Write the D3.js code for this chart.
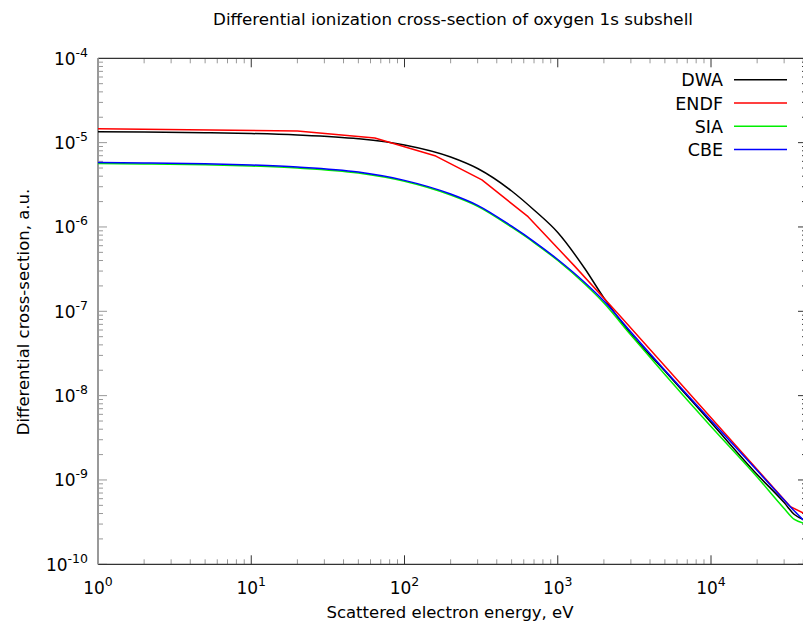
<!DOCTYPE html>
<html>
<head>
<meta charset="utf-8">
<script src="https://cdn.jsdelivr.net/npm/d3@7"></script>
<style>
  html, body { margin: 0; padding: 0; background: #fff; }
  svg { display: block; }
  text { font-family: "DejaVu Sans", sans-serif; fill: #000; }
</style>
</head>
<body>
<svg id="chart" width="803" height="627"></svg>
<script>
// ---- data ----
const titleText = "Differential ionization cross-section of oxygen 1s subshell";
const xLabel = "Scattered electron energy, eV";
const yLabel = "Differential cross-section, a.u.";

const xTickExponents = [0, 1, 2, 3, 4];
const yTickExponents = [-10, -9, -8, -7, -6, -5, -4];

const energyGrid = [1, 2, 5, 10, 20, 50, 100, 200, 300, 500, 700, 1000, 1500, 2000, 3000, 5000, 7000, 10000, 20000, 30000, 35000, 40000];

const dwaValues = [1.348e-5, 1.337e-5, 1.312e-5, 1.283e-5, 1.232e-5, 1.110e-5, 9.37e-6, 6.75e-6, 4.93e-6, 2.67e-6, 1.589e-6, 8.60e-7, 3.215e-7, 1.44e-7, 5.38e-8, 1.958e-8, 9.90e-9, 4.80e-9, 1.160e-9, 5.40e-10, 3.89e-10, 3.40e-10];

const endfEnergies = [1, 20, 64, 160, 320, 640, 1280, 2560, 6300, 33000, 40000];
const endfValues = [1.462e-5, 1.374e-5, 1.135e-5, 6.93e-6, 3.61e-6, 1.324e-6, 3.48e-7, 8.75e-8, 1.40e-8, 4.82e-10, 4.06e-10];

const siaValues = [5.66e-6, 5.58e-6, 5.46e-6, 5.28e-6, 5.00e-6, 4.36e-6, 3.48e-6, 2.39e-6, 1.758e-6, 9.93e-7, 6.54e-7, 4.00e-7, 2.107e-7, 1.254e-7, 5.23e-8, 1.78e-8, 8.87e-9, 4.30e-9, 1.084e-9, 4.59e-10, 3.40e-10, 3.09e-10];

const cbeValues = [5.81e-6, 5.73e-6, 5.61e-6, 5.43e-6, 5.14e-6, 4.48e-6, 3.57e-6, 2.46e-6, 1.806e-6, 1.021e-6, 6.72e-7, 4.11e-7, 2.195e-7, 1.324e-7, 5.68e-8, 2.00e-8, 1.023e-8, 5.07e-9, 1.294e-9, 5.78e-10, 4.28e-10, 3.35e-10];

const seriesNames = ["DWA", "ENDF", "SIA", "CBE"];
const seriesColors = ["#000000", "#ff0000", "#00ee00", "#0000ff"];

// ---- layout ----
const svg = d3.select("#chart");
const pLeft = 98, pRight = 807, pTop = 58.3, pBottom = 564.3;

const x = d3.scaleLog().domain([1, 42300]).range([pLeft, pRight]);
const y = d3.scaleLog().domain([1e-10, 1e-4]).range([pBottom, pTop]);

const series = [
  { name: seriesNames[0], xs: energyGrid, ys: dwaValues, color: seriesColors[0], smooth: true },
  { name: seriesNames[1], xs: endfEnergies, ys: endfValues, color: seriesColors[1], smooth: false },
  { name: seriesNames[2], xs: energyGrid, ys: siaValues, color: seriesColors[2], smooth: true },
  { name: seriesNames[3], xs: energyGrid, ys: cbeValues, color: seriesColors[3], smooth: true }
];

svg.append("defs").append("clipPath").attr("id", "plotclip")
  .append("rect").attr("x", pLeft).attr("y", pTop).attr("width", pRight - pLeft).attr("height", pBottom - pTop);

// ---- ticks ----
const ticksG = svg.append("g");
for (let e = 0; e <= 4; e++) {
  for (let m = 1; m <= 9; m++) {
    const v = m * Math.pow(10, e);
    if (v > 42300) continue;
    const px = x(v);
    const major = m === 1;
    const len = major ? 9 : 5;
    const col = major ? "#333" : "#999";
    ticksG.append("line").attr("x1", px).attr("x2", px).attr("y1", pBottom).attr("y2", pBottom - len)
      .attr("stroke", col).attr("stroke-width", 1);
    ticksG.append("line").attr("x1", px).attr("x2", px).attr("y1", pTop).attr("y2", pTop + len)
      .attr("stroke", col).attr("stroke-width", 1);
  }
}
for (let e = -10; e < -4; e++) {
  for (let m = 1; m <= 9; m++) {
    const v = m * Math.pow(10, e);
    const py = y(v);
    const major = m === 1;
    const len = major ? 9 : 5;
    ticksG.append("line").attr("x1", pLeft).attr("x2", pLeft + len).attr("y1", py).attr("y2", py)
      .attr("stroke", "#999").attr("stroke-width", 1);
    ticksG.append("line").attr("x1", pRight).attr("x2", pRight - len).attr("y1", py).attr("y2", py)
      .attr("stroke", "#333").attr("stroke-width", 1);
  }
}

// ---- border ----
svg.append("line").attr("x1", pLeft).attr("x2", pRight).attr("y1", pTop).attr("y2", pTop)
  .attr("stroke", "#333").attr("stroke-width", 1.3);
svg.append("line").attr("x1", pLeft).attr("x2", pRight).attr("y1", pBottom).attr("y2", pBottom)
  .attr("stroke", "#333").attr("stroke-width", 1.3);
svg.append("line").attr("x1", pLeft).attr("x2", pLeft).attr("y1", pTop).attr("y2", pBottom)
  .attr("stroke", "#999").attr("stroke-width", 2);

// ---- curves ----
const curvesG = svg.append("g").attr("clip-path", "url(#plotclip)");
series.forEach(s => {
  const pts = s.xs.map((v, i) => [v, s.ys[i]]);
  const line = d3.line().x(d => x(d[0])).y(d => y(d[1]))
    .curve(s.smooth ? d3.curveMonotoneX : d3.curveLinear);
  curvesG.append("path").datum(pts).attr("d", line)
    .attr("fill", "none").attr("stroke", s.color).attr("stroke-width", 1.5)
    .attr("stroke-linejoin", "round");
});

// ---- tick labels ----
const lab = svg.append("g");
yTickExponents.forEach(e => {
  const t = lab.append("text").attr("x", 88).attr("y", y(Math.pow(10, e)) + 6.5)
    .attr("text-anchor", "end").style("font-size", "17px");
  t.append("tspan").text("10");
  t.append("tspan").attr("dy", -8).style("font-size", "12.5px").text(String(e));
});
xTickExponents.forEach(e => {
  const t = lab.append("text").attr("x", x(Math.pow(10, e))).attr("y", 593.5)
    .attr("text-anchor", "middle").style("font-size", "17px");
  t.append("tspan").text("10");
  t.append("tspan").attr("dy", -8).style("font-size", "12.5px").text(String(e));
});

// ---- titles ----
svg.append("text").attr("x", 453).attr("y", 25).attr("text-anchor", "middle")
  .style("font-size", "16.7px").text(titleText);
svg.append("text").attr("x", 450).attr("y", 618).attr("text-anchor", "middle")
  .style("font-size", "16.5px").text(xLabel);
svg.append("text").attr("transform", "translate(29,312) rotate(-90)").attr("text-anchor", "middle")
  .style("font-size", "16.5px").text(yLabel);

// ---- legend ----
const leg = svg.append("g");
series.forEach((s, i) => {
  const ly = 79.7 + i * 23.3;
  leg.append("text").attr("x", 723).attr("y", ly + 6.5).attr("text-anchor", "end")
    .style("font-size", "17.5px").text(s.name);
  leg.append("line").attr("x1", 734).attr("x2", 787).attr("y1", ly).attr("y2", ly)
    .attr("stroke", s.color).attr("stroke-width", 1.5);
});
</script>
</body>
</html>
